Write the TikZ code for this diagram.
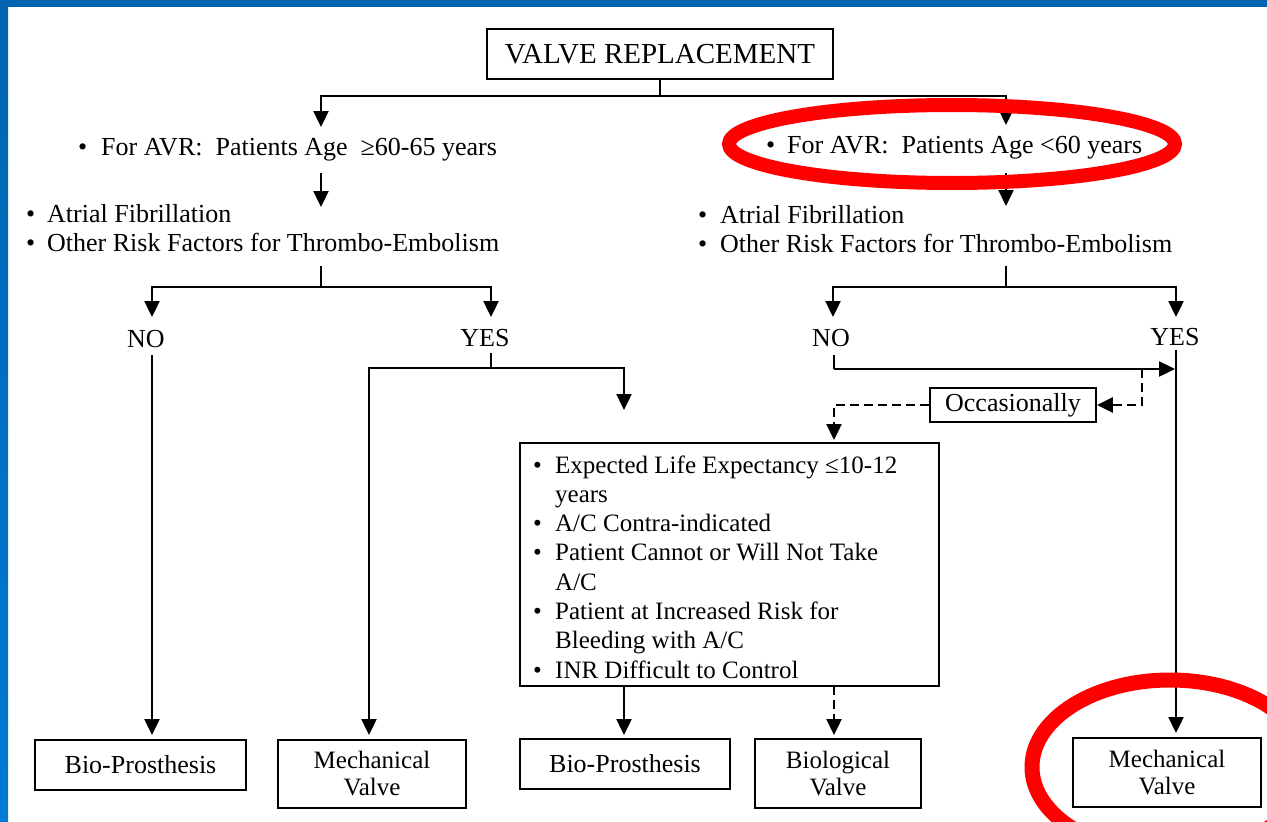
\documentclass[tikz,border=0pt]{standalone}
\usepackage{fontspec}
\setmainfont{Liberation Serif}
\usetikzlibrary{arrows.meta,calc}
\definecolor{frameblue}{RGB}{0,100,176}
\definecolor{frameblueb}{RGB}{0,122,212}
\definecolor{markred}{RGB}{255,0,0}
\newcommand\myfs{\fontsize{26}{29}\selectfont}
\newcommand\titlefs{\fontsize{29}{32}\selectfont}
\newcommand\critfs{\fontsize{25}{29.3}\selectfont}
\newcommand\itmA{\makebox[22pt][l]{•}}
\newcommand\cntA{\hspace*{22pt}}
\begin{document}
\begin{tikzpicture}[x=1pt,y=-1pt,
  conn/.style={line width=2.4pt},
  arr/.style={conn,-{Triangle[length=16pt,width=15pt]}},
  darr/.style={arr,dash pattern=on 9pt off 5pt},
  box/.style={draw,line width=1.8pt,inner sep=0pt,align=center,font=\myfs},
  txt/.style={inner sep=0pt,font=\myfs},
]
\useasboundingbox (0,0) rectangle (1267,822);
\fill[white] (0,0) rectangle (1267,822);
\fill[frameblue] (0,0) rectangle (1267,7);
\shade[top color=frameblue,bottom color=frameblueb] (0,0) rectangle (8,822);

% ---- nodes
\node[box,minimum width=346pt,minimum height=50pt,font=\titlefs] (title) at (660,54) {VALVE REPLACEMENT};

\node[txt,anchor=base west] (ageL) at (78,155) {\makebox[23pt][l]{•}For AVR:\ \ Patients Age\ \ ≥60-65 years};
\node[txt,anchor=base west] (ageR) at (766,153) {\makebox[21pt][l]{•}For AVR:\ \ Patients Age <60 years};

\node[txt,anchor=base west] (listL) at (26,222) {\begin{tabular}[t]{@{}l@{}}\makebox[21pt][l]{•}Atrial Fibrillation\\\makebox[21pt][l]{•}Other Risk Factors for Thrombo-Embolism\end{tabular}};
\node[txt,anchor=base west] (listR) at (698,223) {\begin{tabular}[t]{@{}l@{}}\makebox[22pt][l]{•}Atrial Fibrillation\\\makebox[22pt][l]{•}Other Risk Factors for Thrombo-Embolism\end{tabular}};

\node[txt,anchor=base] (noL) at (146,347) {NO};
\node[txt,anchor=base] (yesL) at (485,346) {YES};
\node[txt,anchor=base] (noR) at (831,346) {NO};
\node[txt,anchor=base] (yesR) at (1175,345) {YES};

\node[box,minimum width=166pt,minimum height=34pt] (occ) at (1013,405) {Occasionally};

\node[draw,line width=1.8pt,inner sep=0pt,minimum width=419pt,minimum height=243pt] (crit) at (729.5,564.5) {};
\node[inner sep=0pt,font=\critfs,anchor=base west] (critT) at (533,473) {\begin{tabular}[t]{@{}l@{}}%
\itmA Expected Life Expectancy ≤10-12\\
\cntA years\\
\itmA A/C Contra-indicated\\
\itmA Patient Cannot or Will Not Take\\
\cntA A/C\\
\itmA Patient at Increased Risk for\\
\cntA Bleeding with A/C\\
\itmA INR Difficult to Control\end{tabular}};

\node[box,minimum width=211pt,minimum height=50pt] (b1) at (140.5,765) {Bio-Prosthesis};
\node[box,minimum width=188pt,minimum height=68pt,font=\fontsize{25}{27}\selectfont] (b2) at (372,774) {Mechanical\\Valve};
\node[box,minimum width=210pt,minimum height=50pt] (b3) at (625,764) {Bio-Prosthesis};
\node[box,minimum width=166pt,minimum height=69pt,font=\fontsize{25}{27}\selectfont] (b4) at (838,773.5) {Biological\\Valve};
\node[box,minimum width=188pt,minimum height=69pt,font=\fontsize{25}{27}\selectfont] (b5) at (1167,772.5) {Mechanical\\Valve};

% ---- coordinates
\coordinate (j0) at (660,96);
\coordinate (ageLin) at (321,127);
\coordinate (ageRin) at (1006,125);
\coordinate (ageLout) at (321,173);
\coordinate (listLin) at (321,207);
\coordinate (ageRout) at (1006,173);
\coordinate (listRin) at (1006,206);
\coordinate (listLout) at (321,266);
\coordinate (jL) at (321,287);
\coordinate (noLin) at (152,317);
\coordinate (yesLin) at (491,317);
\coordinate (listRout) at (1006,266);
\coordinate (jR) at (1006,287);
\coordinate (noRin) at (833,317);
\coordinate (yesRin) at (1176,317);
\coordinate (noLout) at (152,355);
\coordinate (b1in) at (152,735);
\coordinate (yesLout) at (491,353);
\coordinate (jY) at (491,368);
\coordinate (b2in) at (369,735);
\coordinate (critin) at (624,410);
\coordinate (noRout) at (834,355);
\coordinate (jN) at (834,369);
\coordinate (yesline) at (1175,369);
\coordinate (yesRout) at (1176,350);
\coordinate (b5in) at (1176,733);
\coordinate (dj) at (1142,369);
\coordinate (critdin) at (834,440);
\coordinate (critout) at (624,686);
\coordinate (b3in) at (624,735);
\coordinate (critdout) at (834,686);
\coordinate (b4in) at (834,735);

% ---- connectors
\draw[conn] (title.south) -- (j0);
\draw[arr] (j0) -| (ageLin);
\draw[arr] (j0) -| (ageRin);
\draw[arr] (ageLout) -- (listLin);
\draw[arr] (ageRout) -- (listRin);
\draw[conn] (listLout) -- (jL);
\draw[arr] (jL) -| (noLin);
\draw[arr] (jL) -| (yesLin);
\draw[conn] (listRout) -- (jR);
\draw[arr] (jR) -| (noRin);
\draw[arr] (jR) -| (yesRin);
\draw[arr] (noLout) -- (b1in);
\draw[conn] (yesLout) -- (jY);
\draw[arr] (jY) -| (b2in);
\draw[arr] (jY) -| (critin);
\draw[conn] (noRout) -- (jN);
\draw[arr] (jN) -- (yesline);
\draw[arr] (yesRout) -- (b5in);
\draw[darr] (dj) |- (occ.east);
\draw[darr] (occ.west) -| (critdin);
\draw[arr] (critout) -- (b3in);
\draw[darr] (critdout) -- (b4in);

% ---- red marks
\draw[markred,line width=14pt] (952,144) ellipse [x radius=223pt,y radius=39pt];
\begin{scope}
\clip (0,0) rectangle (1267,822);
\draw[markred,line width=15pt] (1170,767) ellipse [x radius=138pt,y radius=87pt];
\end{scope}
\end{tikzpicture}
\end{document}
